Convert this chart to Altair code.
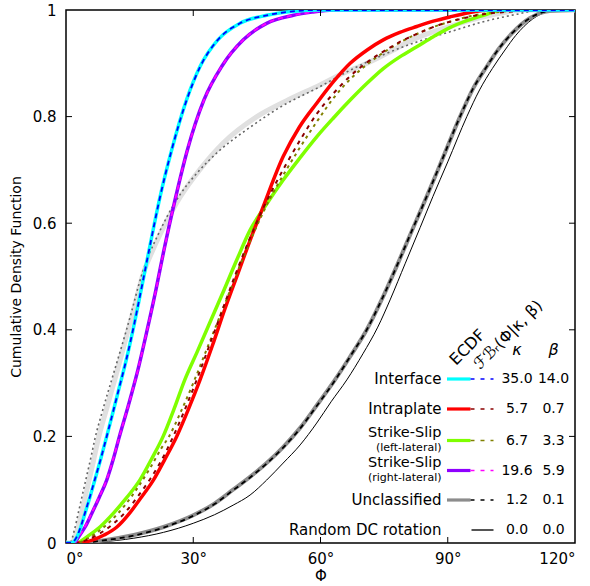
import altair as alt
import pandas as pd

W, H = 509, 533
FONT = "DejaVu Sans"

# ---------------- curves: misorientation angle Φ (deg) vs cumulative fraction ----------------
interface_phi = [0, 1.3, 2.5, 3.5, 4.5, 5.6, 6.8, 8.2, 9.6, 11.0, 12.5, 14.1, 15.8, 17.6, 19.6, 22.0, 24.9, 28.4, 31.6, 35.8, 41.0, 47.3, 53.0, 59.0, 120]
interface_F = [0, 0, 0.01, 0.03, 0.056, 0.085, 0.118, 0.158, 0.2, 0.243, 0.29, 0.34, 0.4, 0.47, 0.55, 0.6435, 0.737, 0.831, 0.894, 0.944, 0.975, 0.99, 0.997, 1, 1]
interface_fit_phi = [0, 1.2, 2.5, 3.5, 4.5, 5.6, 6.8, 8.2, 9.6, 11.0, 12.5, 14.1, 15.8, 17.6, 19.6, 22.0, 24.9, 28.4, 31.6, 35.8, 41.0, 47.3, 53.0, 59.0, 120]
interface_fit_F = [0, 0, 0.011, 0.031, 0.057, 0.086, 0.119, 0.158, 0.2, 0.243, 0.29, 0.34, 0.4, 0.47, 0.55, 0.643, 0.737, 0.83, 0.893, 0.944, 0.975, 0.99, 0.997, 1, 1]

intraplate_phi = [0, 3, 6, 9, 12, 15, 17.5, 20.6, 23.3, 26.1, 28.8, 31.6, 34.5, 37.5, 40.5, 43.4, 46.2, 51.2, 55, 59.1, 63, 67, 71, 74.8, 78.7, 82.7, 86.6, 90.5, 95, 100, 120]
intraplate_F = [0, 0, 0.005, 0.015, 0.03, 0.056, 0.083, 0.118, 0.157, 0.2, 0.25, 0.306, 0.37, 0.44, 0.505, 0.568, 0.625, 0.725, 0.78, 0.825, 0.865, 0.9, 0.925, 0.944, 0.958, 0.969, 0.979, 0.987, 0.995, 1, 1]
intraplate_fit_phi = [0, 2.5, 5, 8, 11, 14, 17, 20, 22.5, 25, 28, 31, 34, 37, 40, 43, 46, 49, 52, 55.5, 59.1, 63, 67, 71, 74.8, 78.7, 82.7, 86.6, 90.5, 94.5, 98.4, 103, 110, 120]
intraplate_fit_F = [0, 0, 0.006, 0.018, 0.035, 0.058, 0.088, 0.122, 0.155, 0.195, 0.25, 0.31, 0.375, 0.44, 0.505, 0.565, 0.62, 0.668, 0.712, 0.76, 0.805, 0.843, 0.876, 0.902, 0.922, 0.94, 0.955, 0.968, 0.978, 0.986, 0.992, 0.996, 0.999, 1]

ss_left_phi = [0, 2.5, 5, 8, 11.2, 14.3, 17.4, 20.2, 22.9, 25.5, 28, 31, 34, 37, 40.2, 43.4, 47.3, 51.2, 55.2, 59.1, 63, 67, 70.9, 74.8, 78.7, 82.7, 86.6, 90.5, 94.5, 98.4, 103, 120]
ss_left_F = [0, 0, 0.012, 0.03, 0.056, 0.085, 0.118, 0.158, 0.2, 0.252, 0.306, 0.36, 0.415, 0.47, 0.53, 0.587, 0.636, 0.681, 0.723, 0.762, 0.797, 0.831, 0.862, 0.89, 0.912, 0.931, 0.95, 0.967, 0.98, 0.99, 1, 1]
ss_left_fit_phi = [0, 2.5, 5, 8, 11, 14, 17, 20, 22.5, 24.3, 27, 30, 33, 36, 39, 42, 45, 48, 51.2, 55, 59.1, 63, 67, 71, 74.8, 78.7, 82.7, 86.6, 90.5, 94.5, 98.4, 103, 110, 120]
ss_left_fit_F = [0, 0, 0.008, 0.024, 0.045, 0.072, 0.105, 0.143, 0.178, 0.2, 0.245, 0.3, 0.36, 0.42, 0.48, 0.54, 0.595, 0.645, 0.69, 0.74, 0.79, 0.834, 0.87, 0.898, 0.92, 0.939, 0.955, 0.968, 0.978, 0.987, 0.993, 0.997, 1, 1]

ss_right_phi = [0, 1.8, 3.0, 4.5, 6.1, 7.8, 9.6, 11.1, 12.6, 14.7, 16.8, 19.0, 21.2, 23.1, 25.7, 28.6, 32.5, 36.7, 41.8, 47.3, 53.6, 58, 63, 120]
ss_right_F = [0, 0, 0.012, 0.03, 0.056, 0.085, 0.118, 0.156, 0.2, 0.258, 0.32, 0.395, 0.475, 0.55, 0.6435, 0.737, 0.831, 0.894, 0.944, 0.975, 0.99, 0.996, 1, 1]
ss_right_fit_phi = [0, 1.8, 3.0, 4.5, 6.1, 7.8, 9.6, 11.1, 12.6, 14.7, 16.8, 19.0, 21.2, 23.1, 25.7, 28.6, 32.5, 36.7, 41.8, 47.3, 53.6, 58, 63, 120]
ss_right_fit_F = [0, 0, 0.012, 0.031, 0.057, 0.086, 0.119, 0.157, 0.2, 0.258, 0.32, 0.395, 0.474, 0.549, 0.643, 0.737, 0.83, 0.894, 0.944, 0.975, 0.99, 0.996, 1, 1]

unclass_phi = [0, 3, 8, 16, 23, 30, 35, 39.4, 43.4, 47.3, 51.2, 55.2, 59.1, 63.4, 67, 70.9, 74.4, 78, 81.5, 84.5, 88.2, 92.9, 96, 99.2, 102, 105.1, 109.4, 114, 120]
unclass_F = [0, 0, 0.004, 0.015, 0.03, 0.052, 0.074, 0.1, 0.124, 0.15, 0.18, 0.216, 0.258, 0.306, 0.35, 0.4, 0.456, 0.52, 0.585, 0.64, 0.71, 0.8, 0.853, 0.894, 0.927, 0.956, 0.985, 0.998, 1]
unclass_fit_phi = [0, 3, 8, 16, 23, 30, 35, 39.4, 43.4, 47.3, 51.2, 55.2, 59.1, 63.4, 67, 70.9, 74.4, 78, 81.5, 84.5, 88.2, 92.9, 96, 99.2, 102, 105.1, 109.4, 114, 120]
unclass_fit_F = [0, 0, 0.004, 0.014, 0.029, 0.051, 0.073, 0.099, 0.123, 0.149, 0.179, 0.215, 0.257, 0.305, 0.35, 0.4, 0.456, 0.52, 0.585, 0.64, 0.71, 0.8, 0.853, 0.894, 0.927, 0.956, 0.985, 0.998, 1]

random_phi = [0, 3, 8, 16, 23, 30, 35, 39.4, 43.4, 47.3, 51.2, 55.2, 59.1, 62.5, 66.2, 70, 73.5, 76.4, 80, 83.5, 86.5, 90, 94.5, 97.5, 100.5, 103.5, 106, 110, 114.5, 120]
random_F = [0, 0, 0.002, 0.009, 0.02, 0.037, 0.053, 0.071, 0.09, 0.118, 0.15, 0.184, 0.225, 0.265, 0.306, 0.355, 0.405, 0.456, 0.525, 0.592, 0.65, 0.715, 0.8, 0.85, 0.89, 0.925, 0.952, 0.983, 0.998, 1]

all_phi = [0, 1.3, 2.5, 3.5, 4.5, 5.5, 6.5, 7.6, 9.5, 11.9, 13.5, 15, 16.5, 18, 20.5, 23.5, 27, 31.5, 37, 45, 52, 60, 65, 71, 76, 82, 90, 100, 108, 120]
all_F = [0, 0, 0.02, 0.05, 0.085, 0.12, 0.155, 0.195, 0.25, 0.318, 0.365, 0.41, 0.455, 0.5, 0.55, 0.6, 0.65, 0.7, 0.75, 0.8, 0.83, 0.86, 0.88, 0.9, 0.92, 0.945, 0.968, 0.99, 1, 1]
all_fit_phi = [0, 0.9, 2, 3, 4, 5, 6, 6.8, 8.5, 11.1, 13.9, 15.5, 17, 19, 21.5, 24, 27, 31, 36, 43.4, 51, 59.1, 67, 74.8, 82.7, 90.5, 98.4, 106.3, 112, 120]
all_fit_F = [0, 0, 0.025, 0.06, 0.095, 0.13, 0.165, 0.195, 0.245, 0.315, 0.39, 0.435, 0.48, 0.53, 0.575, 0.615, 0.655, 0.695, 0.735, 0.78, 0.82, 0.853, 0.887, 0.916, 0.94, 0.959, 0.978, 0.992, 1, 1]

# ---------------- legend table ----------------
leg_names = ["Interface", "Intraplate", "Strike-Slip", "Strike-Slip", "Unclassified", "Random DC rotation"]
leg_sub = ["", "", "(left-lateral)", "(right-lateral)", "", ""]
leg_kappa = ["35.0", "5.7", "6.7", "19.6", "1.2", "0.0"]
leg_beta = ["14.0", "0.7", "3.3", "5.9", "0.1", "0.0"]

x_ticks = [0, 30, 60, 90, 120]
y_ticks = [0, 0.2, 0.4, 0.6, 0.8, 1]

xs = alt.Scale(domain=[0, 120], nice=False, zero=False)
ys = alt.Scale(domain=[0, 1], nice=False)

XAX = alt.Axis(
    values=x_ticks, labelExpr="datum.value + '°'", ticks=False, domain=False, grid=False,
    labelPadding=8, labelFontSize=15, labelFont=FONT, labelColor="black",
    title="Φ", titleFont=FONT, titleFontSize=15, titleFontWeight="normal", titlePadding=2, titleColor="black")
YAX = alt.Axis(
    values=y_ticks, format="~g", ticks=False, domain=False, grid=False,
    labelPadding=10, labelFontSize=15, labelFont=FONT, labelColor="black",
    title="Cumulative Density Function", titleFont=FONT, titleFontSize=14, titleFontWeight="normal",
    titlePadding=9, titleColor="black")

xenc = alt.X("phi:Q", scale=xs, axis=XAX, title="Φ")
yenc = alt.Y("F:Q", scale=ys, axis=YAX, title="Cumulative Density Function")


def curve(phi, F, color, width, dash=None):
    df = pd.DataFrame({"phi": phi, "F": F})
    kw = dict(color=color, strokeWidth=width, interpolate="monotone", clip=True)
    if dash:
        kw["strokeDash"] = dash
    return alt.Chart(df).mark_line(**kw).encode(x=xenc, y=yenc)


# inward tick marks on all four sides
tx = pd.DataFrame({"phi": x_ticks[1:-1]})
ty = pd.DataFrame({"F": y_ticks[1:-1]})
TL = 6
ticks = [
    alt.Chart(tx).mark_rule(color="black", strokeWidth=1).encode(x=xenc, y=alt.value(H - TL), y2=alt.value(H)),
    alt.Chart(tx).mark_rule(color="black", strokeWidth=1).encode(x=xenc, y=alt.value(0), y2=alt.value(TL)),
    alt.Chart(ty).mark_rule(color="black", strokeWidth=1).encode(y=yenc, x=alt.value(0), x2=alt.value(TL)),
    alt.Chart(ty).mark_rule(color="black", strokeWidth=1).encode(y=yenc, x=alt.value(W - TL), x2=alt.value(W)),
]

CYAN, BLUE = "#00ffff", "#0000ff"
RED, DRED = "#ff0000", "#8b0000"
GREEN, OLIVE = "#7fff00", "#808000"
PURPLE, MAGENTA = "#8f00ff", "#ff00ff"
GRAY = "#8c8c8c"

curves = [
    curve(all_phi, all_F, "#e0e0e0", 5),
    curve(all_fit_phi, all_fit_F, "#666666", 1.6, [2, 3]),
    curve(random_phi, random_F, "black", 1),
    curve(unclass_phi, unclass_F, GRAY, 4),
    curve(unclass_fit_phi, unclass_fit_F, "black", 1.8, [5, 4]),
    curve(ss_left_phi, ss_left_F, GREEN, 3.5),
    curve(intraplate_phi, intraplate_F, RED, 3.5),
    curve(ss_left_fit_phi, ss_left_fit_F, OLIVE, 2, [3, 4]),
    curve(intraplate_fit_phi, intraplate_fit_F, DRED, 2, [4, 5]),
    curve(ss_right_phi, ss_right_F, PURPLE, 3.5),
    curve(ss_right_fit_phi, ss_right_fit_F, MAGENTA, 1.8, [5, 4]),
    curve(interface_phi, interface_F, CYAN, 3.5),
    curve(interface_fit_phi, interface_fit_F, BLUE, 1.8, [5, 4]),
]

# ---------------- in-plot legend ----------------
ecdf_cols = [CYAN, RED, GREEN, PURPLE, GRAY, None]
fit_cols = [BLUE, DRED, OLIVE, MAGENTA, "black", None]
row_y = [369, 399, 430.5, 460.5, 490, 520]
LBL_X, E0, E1, F1 = 375.5, 381, 404.5, 427.5
K_X, B_X = 451, 487.5
pt = pd.DataFrame({"a": [0]})


def txt(s, x, y, size=15, align="right", baseline="middle", angle=0, style="normal", font=FONT):
    kw = dict(text=s, align=align, baseline=baseline, fontSize=size, font=font, color="black", fontStyle=style)
    if angle:
        kw["angle"] = angle
    return alt.Chart(pt).mark_text(**kw).encode(x=alt.value(x), y=alt.value(y))


def seg(x0, x1, y, color, width, dash=None):
    kw = dict(color=color, strokeWidth=width, strokeCap="butt")
    if dash:
        kw["strokeDash"] = dash
    return alt.Chart(pt).mark_rule(**kw).encode(x=alt.value(x0), x2=alt.value(x1), y=alt.value(y))


legend = []
for i, name in enumerate(leg_names):
    y = row_y[i]
    if leg_sub[i]:
        legend.append(txt(name, LBL_X, y - 8, size=14.5))
        legend.append(txt(leg_sub[i], LBL_X, y + 7, size=11))
    else:
        legend.append(txt(name, LBL_X, y))
    if ecdf_cols[i]:
        legend.append(seg(E0, E1, y, ecdf_cols[i], 3.2))
        legend.append(seg(E1, F1, y, fit_cols[i], 1.5, [4, 6]))
    else:
        legend.append(seg(E1 + 1, F1, y, "#555555", 2))
    legend.append(txt(leg_kappa[i], K_X, y, size=14, align="center"))
    legend.append(txt(leg_beta[i], B_X, y, size=14, align="center"))

legend += [
    txt("ECDF", 390, 356, size=16, align="left", baseline="alphabetic", angle=315),
    txt("ℱℬᵣ(Φ|κ, β)", 414, 360, size=16, align="left", baseline="alphabetic", angle=315),
    txt("κ", K_X, 340, size=16, align="center", style="italic"),
    txt("β", B_X, 340, size=16, align="center", style="italic"),
]

chart = alt.layer(*curves, *ticks, *legend).properties(
    width=W, height=H,
    autosize=alt.AutoSizeParams(type="none"),
    padding={"left": 66, "top": 10, "right": 15, "bottom": 43},
).configure_view(stroke="black", strokeWidth=1.5)

chart.save("out.html", embed_options={"renderer": "svg", "actions": False})
